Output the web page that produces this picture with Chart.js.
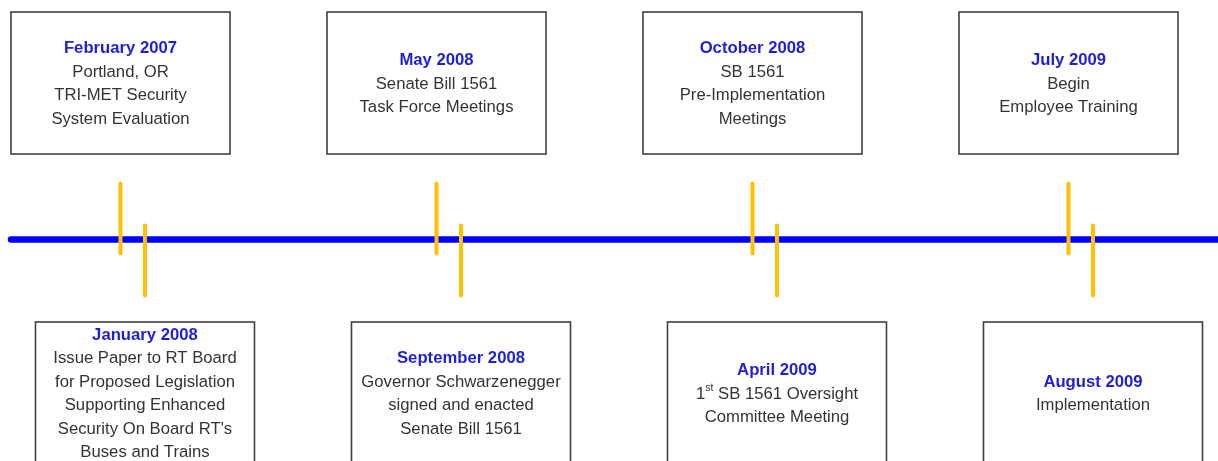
<!DOCTYPE html>
<html>
<head>
<meta charset="utf-8">
<script src="https://cdn.jsdelivr.net/npm/chart.js@4/dist/chart.umd.min.js"></script>
<style>
  html, body { margin: 0; padding: 0; background: #ffffff; }
  #wrap { width: 1218px; height: 461px; }
</style>
</head>
<body>
<div id="wrap"><canvas id="c" width="1218" height="461"></canvas></div>
<script>
// ---- DATA ----
const eventDates = ['February 2007', 'January 2008', 'May 2008', 'September 2008',
                    'October 2008', 'April 2009', 'July 2009', 'August 2009'];
const eventDescriptions = [
  ['Portland, OR', 'TRI-MET Security', 'System Evaluation'],
  ['Issue Paper to RT Board', 'for Proposed Legislation', 'Supporting Enhanced', "Security On Board RT's", 'Buses and Trains'],
  ['Senate Bill 1561', 'Task Force Meetings'],
  ['Governor Schwarzenegger', 'signed and enacted', 'Senate Bill 1561'],
  ['SB 1561', 'Pre-Implementation', 'Meetings'],
  ['1^st SB 1561 Oversight', 'Committee Meeting'],
  ['Begin', 'Employee Training'],
  ['Implementation']
];
const eventSides = ['above', 'below', 'above', 'below', 'above', 'below', 'above', 'below'];
const eventSlots = [0, 0, 1, 1, 2, 2, 3, 3];   // ordinal group along the timeline

// ---- STYLE / LAYOUT ----
const X_MIN = -0.3465, X_MAX = 3.4731;
const Y_MIN = -221.5, Y_MAX = 239.5;
const STAGGER = 0.0775;                  // lower markers shifted right (in slot units)
const TICK_LONG = 56, TICK_SHORT = 14;
const BOX_W = 219;
const BOX_NEAR_UP = 85.5, BOX_NEAR_DOWN = 82.5, BOX_H = 142;
const LINE_H = 23.5;
const FONT_SIZE = 16.7;
const FONT = '"Liberation Sans", Arial, sans-serif';
const TITLE_COLOR = '#1f1fd6';
const TEXT_COLOR = '#333333';

function slotX(i) { return eventSlots[i] + (eventSides[i] === 'below' ? STAGGER : 0); }

const tickDatasets = eventDates.map((d, i) => {
  const up = eventSides[i] === 'above';
  return {
    label: d,
    type: 'scatter',
    showLine: true,
    data: [{x: slotX(i), y: up ? TICK_LONG : TICK_SHORT}, {x: slotX(i), y: up ? -TICK_SHORT : -TICK_LONG}],
    borderColor: '#FFC000',
    borderWidth: 4,
    borderCapStyle: 'round',
    pointRadius: 0,
    clip: false,
    order: 1
  };
});

const timelineDataset = {
  label: 'timeline',
  type: 'scatter',
  showLine: true,
  data: [{x: X_MIN, y: 0}, {x: X_MAX, y: 0}],
  borderColor: '#0000ff',
  borderWidth: 6.5,
  borderCapStyle: 'round',
  pointRadius: 0,
  clip: false,
  order: 2
};

function drawLine(ctx, text, cx, y) {
  const parts = text.split('^');
  if (parts.length === 1) {
    ctx.textAlign = 'center';
    ctx.fillText(text, cx, y);
    return;
  }
  const base = parts[0];
  const m = parts[1].match(/^(\S+)(.*)$/);
  const sup = m[1], rest = m[2];
  const normal = ctx.font;
  const supFont = '10.5px ' + FONT;
  const wBase = ctx.measureText(base).width;
  const wRest = ctx.measureText(rest).width;
  ctx.font = supFont;
  const wSup = ctx.measureText(sup).width;
  ctx.font = normal;
  let x = cx - (wBase + wSup + wRest) / 2;
  ctx.textAlign = 'left';
  ctx.fillText(base, x, y); x += wBase;
  ctx.font = supFont;
  ctx.fillText(sup, x, y - 6); x += wSup;
  ctx.font = normal;
  ctx.fillText(rest, x, y);
}

const boxesPlugin = {
  id: 'boxes',
  afterDatasetsDraw(chart) {
    const ctx = chart.ctx;
    const xs = chart.scales.x, ys = chart.scales.y;
    ctx.save();
    eventDates.forEach((d, i) => {
      const cx = xs.getPixelForValue(slotX(i));
      const up = eventSides[i] === 'above';
      const yA = ys.getPixelForValue(up ? BOX_NEAR_UP + BOX_H : -BOX_NEAR_DOWN);
      const yB = ys.getPixelForValue(up ? BOX_NEAR_UP : -(BOX_NEAR_DOWN + BOX_H));
      const top = Math.min(yA, yB), h = Math.abs(yB - yA);
      ctx.fillStyle = '#ffffff';
      ctx.fillRect(cx - BOX_W / 2, top, BOX_W, h);
      ctx.strokeStyle = '#404040';
      ctx.lineWidth = 1.6;
      ctx.strokeRect(cx - BOX_W / 2, top, BOX_W, h);
      const lines = [d].concat(eventDescriptions[i]);
      const midY = top + h / 2 + 1;
      const y0 = midY - (lines.length - 1) * LINE_H / 2;
      ctx.textBaseline = 'middle';
      lines.forEach((t, k) => {
        if (k === 0) { ctx.font = 'bold ' + FONT_SIZE + 'px ' + FONT; ctx.fillStyle = TITLE_COLOR; }
        else { ctx.font = FONT_SIZE + 'px ' + FONT; ctx.fillStyle = TEXT_COLOR; }
        drawLine(ctx, t, cx, y0 + k * LINE_H);
      });
    });
    ctx.restore();
  }
};

new Chart(document.getElementById('c'), {
  type: 'scatter',
  data: { datasets: [timelineDataset].concat(tickDatasets) },
  options: {
    responsive: false,
    devicePixelRatio: 1,
    animation: false,
    layout: { padding: { left: 11, right: 0, top: 0, bottom: 0 } },
    scales: {
      x: { type: 'linear', min: X_MIN, max: X_MAX, display: false },
      y: { type: 'linear', min: Y_MIN, max: Y_MAX, display: false }
    },
    plugins: { legend: { display: false }, tooltip: { enabled: false } },
    events: []
  },
  plugins: [boxesPlugin]
});
</script>
</body>
</html>
